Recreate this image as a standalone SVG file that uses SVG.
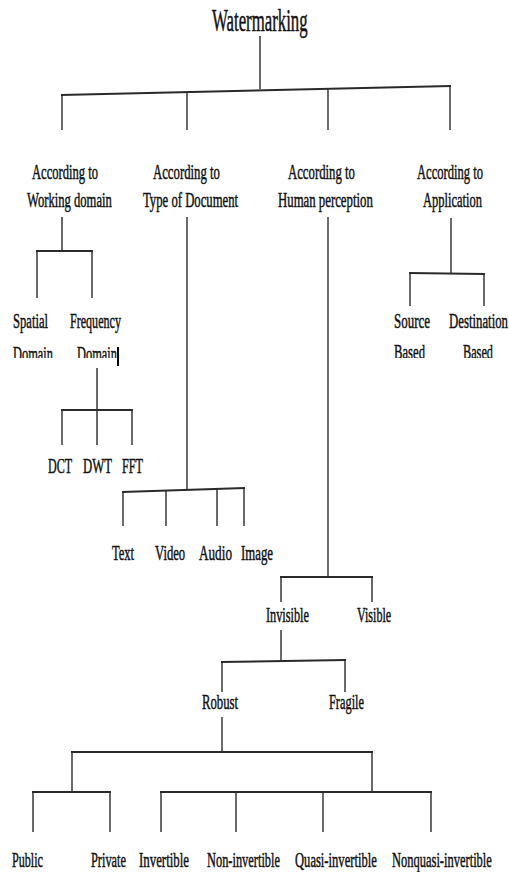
<svg xmlns="http://www.w3.org/2000/svg" width="509" height="872" viewBox="0 0 509 872">
<style>
.t{font-family:"Liberation Serif","Times New Roman",serif;font-size:22px;fill:#111;stroke:#111;stroke-width:0.5}
.c line{stroke:#2a2a2a;stroke-width:1.4;fill:none}
.c .h{stroke-width:2}
</style>
<defs>
<clipPath id="cl"><rect x="0" y="330" width="509" height="28"/></clipPath>
</defs>
<rect width="509" height="872" fill="#fff"/>
<g class="c" id="connectors">
<line x1="260" y1="36" x2="260" y2="89"/>
<line class="h" x1="61" y1="95" x2="451" y2="86"/>
<line x1="62" y1="95" x2="62" y2="130"/>
<line x1="187" y1="92" x2="187" y2="130"/>
<line x1="328" y1="88" x2="328" y2="130"/>
<line x1="450" y1="86" x2="450" y2="130"/>
<line x1="62" y1="217" x2="62" y2="251"/>
<line class="h" x1="36" y1="251" x2="93" y2="251"/>
<line x1="37" y1="251" x2="37" y2="298"/>
<line x1="92" y1="251" x2="92" y2="298"/>
<line x1="97" y1="368" x2="97" y2="410"/>
<line class="h" x1="61" y1="410" x2="133" y2="410"/>
<line x1="62" y1="410" x2="62" y2="445"/>
<line x1="97" y1="410" x2="97" y2="445"/>
<line x1="132" y1="410" x2="132" y2="445"/>
<line x1="187" y1="217" x2="187" y2="490"/>
<line class="h" x1="122" y1="492" x2="245" y2="488"/>
<line x1="123" y1="492" x2="123" y2="526"/>
<line x1="166" y1="491" x2="166" y2="526"/>
<line x1="217" y1="489" x2="217" y2="526"/>
<line x1="244" y1="488" x2="244" y2="526"/>
<line x1="451" y1="218" x2="451" y2="273"/>
<line class="h" x1="409" y1="273" x2="485" y2="274"/>
<line x1="410" y1="273" x2="410" y2="306"/>
<line x1="484" y1="274" x2="484" y2="306"/>
<line x1="328" y1="217" x2="328" y2="577"/>
<line class="h" x1="280" y1="577" x2="373" y2="577"/>
<line x1="281" y1="577" x2="281" y2="602"/>
<line x1="372" y1="577" x2="372" y2="602"/>
<line x1="281" y1="630" x2="281" y2="661"/>
<line class="h" x1="221" y1="662" x2="346" y2="660"/>
<line x1="222" y1="662" x2="222" y2="692"/>
<line x1="345" y1="660" x2="345" y2="692"/>
<line x1="222" y1="717" x2="222" y2="752"/>
<line class="h" x1="71" y1="752" x2="373" y2="752"/>
<line x1="72" y1="752" x2="72" y2="792"/>
<line x1="372" y1="752" x2="372" y2="792"/>
<line class="h" x1="32" y1="792" x2="111" y2="792"/>
<line x1="33" y1="792" x2="33" y2="832"/>
<line x1="110" y1="792" x2="110" y2="832"/>
<line class="h" x1="160" y1="792" x2="432" y2="792"/>
<line x1="161" y1="792" x2="161" y2="832"/>
<line x1="236" y1="792" x2="236" y2="832"/>
<line x1="323" y1="792" x2="323" y2="832"/>
<line x1="431" y1="792" x2="431" y2="832"/>
<line x1="118" y1="347" x2="118" y2="366" style="stroke:#000;stroke-width:2"/>
</g>
<g id="watermarking"><text class="t" transform="translate(212,31) scale(0.525,1)" style="font-size:32px">Watermarking</text></g>
<g id="working"><text class="t" transform="translate(32,179) scale(0.571,1)">According to</text><text class="t" transform="translate(27,207) scale(0.574,1)">Working domain</text></g>
<g id="document"><text class="t" transform="translate(153,179) scale(0.58,1)">According to</text><text class="t" transform="translate(143,207) scale(0.578,1)">Type of Document</text></g>
<g id="human"><text class="t" transform="translate(288,179) scale(0.58,1)">According to</text><text class="t" transform="translate(278,207) scale(0.582,1)">Human perception</text></g>
<g id="application"><text class="t" transform="translate(417,179) scale(0.571,1)">According to</text><text class="t" transform="translate(423,207) scale(0.568,1)">Application</text></g>
<g id="spatial"><text class="t" transform="translate(13,328) scale(0.573,1)">Spatial</text><g clip-path="url(#cl)"><text class="t" transform="translate(13,361) scale(0.564,1)">Domain</text></g></g>
<g id="frequency"><text class="t" transform="translate(70,328) scale(0.549,1)">Frequency</text><g clip-path="url(#cl)"><text class="t" transform="translate(77,361) scale(0.564,1)">Domain</text></g></g>
<g id="source"><text class="t" transform="translate(394,328) scale(0.59,1)">Source</text><g clip-path="url(#cl)"><text class="t" transform="translate(394,359) scale(0.576,1)">Based</text></g></g>
<g id="destination"><text class="t" transform="translate(449,328) scale(0.582,1)">Destination</text><g clip-path="url(#cl)"><text class="t" transform="translate(463,359) scale(0.558,1)">Based</text></g></g>
<g id="dct"><text class="t" transform="translate(48,473) scale(0.545,1)">DCT</text></g>
<g id="dwt"><text class="t" transform="translate(83,473) scale(0.579,1)">DWT</text></g>
<g id="fft"><text class="t" transform="translate(122,473) scale(0.554,1)">FFT</text></g>
<g id="text"><text class="t" transform="translate(112,560) scale(0.57,1)">Text</text></g>
<g id="video"><text class="t" transform="translate(155,560) scale(0.576,1)">Video</text></g>
<g id="audio"><text class="t" transform="translate(199,560) scale(0.6,1)">Audio</text></g>
<g id="image"><text class="t" transform="translate(241,560) scale(0.582,1)">Image</text></g>
<g id="invisible"><text class="t" transform="translate(266,622) scale(0.558,1)">Invisible</text></g>
<g id="visible"><text class="t" transform="translate(357,622) scale(0.55,1)">Visible</text></g>
<g id="robust"><text class="t" transform="translate(202,709) scale(0.578,1)">Robust</text></g>
<g id="fragile"><text class="t" transform="translate(329,709) scale(0.562,1)">Fragile</text></g>
<g id="public"><text class="t" transform="translate(12,867) scale(0.551,1)">Public</text></g>
<g id="private"><text class="t" transform="translate(91,867) scale(0.562,1)">Private</text></g>
<g id="invertible"><text class="t" transform="translate(139,867) scale(0.585,1)">Invertible</text></g>
<g id="noninvertible"><text class="t" transform="translate(207,867) scale(0.564,1)">Non-invertible</text></g>
<g id="quasi"><text class="t" transform="translate(295,867) scale(0.573,1)">Quasi-invertible</text></g>
<g id="nonquasi"><text class="t" transform="translate(392,867) scale(0.568,1)">Nonquasi-invertible</text></g>
</svg>
